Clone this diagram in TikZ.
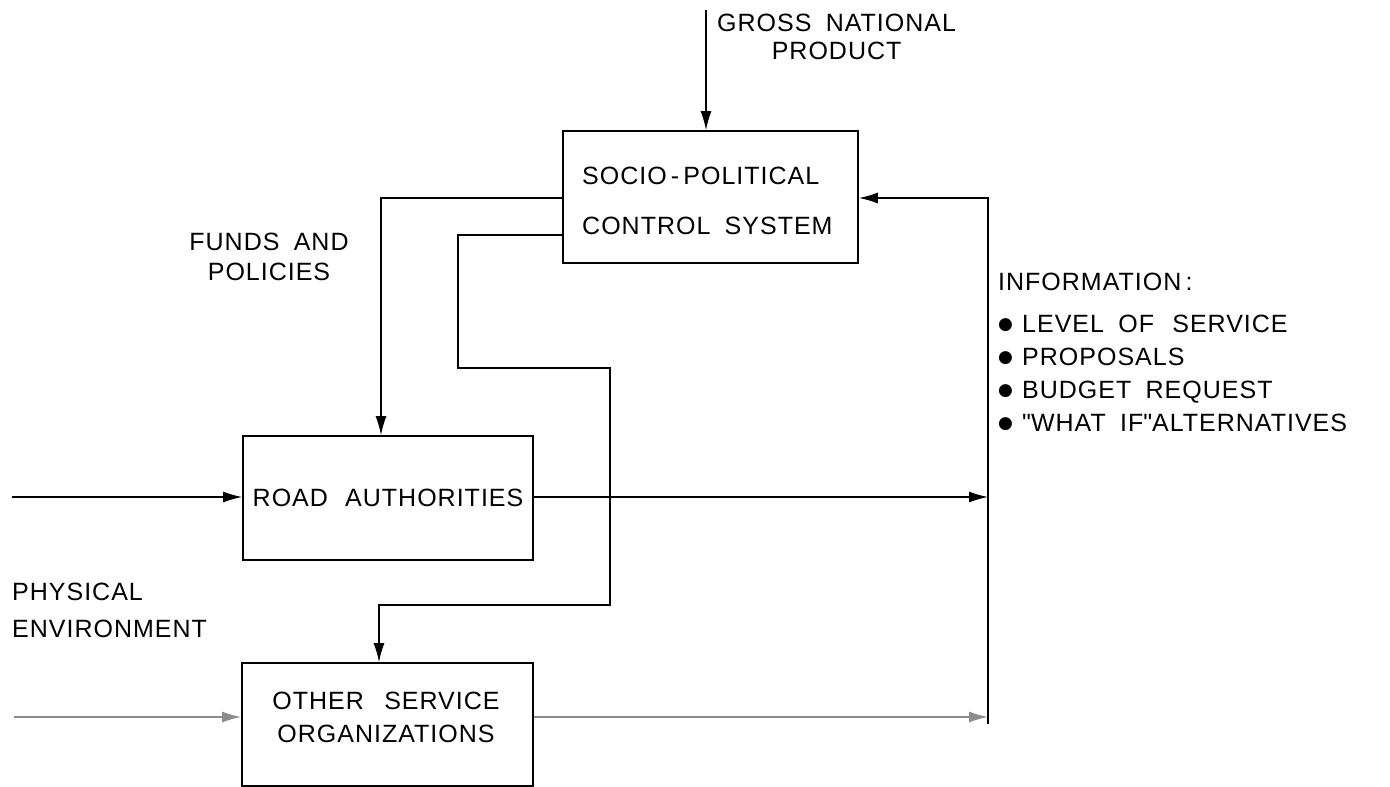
\documentclass[tikz,border=0pt]{standalone}
\usepackage{fontspec}
\setmainfont{Liberation Sans}[LetterSpace=4, WordSpace=1.8]
\newfontfamily\dejavu{DejaVu Sans}
\newfontfamily\qfont{Liberation Sans}
\usetikzlibrary{arrows.meta}
\newcommand{\blt}{\makebox[24pt][l]{\raisebox{3pt}{\dejavu\fontsize{17}{17}\selectfont ●}}}
\newcommand{\sq}{{\qfont"}}
\begin{document}
\begin{tikzpicture}[x=1pt,y=-1pt,
  box/.style={draw, line width=1.8pt, inner sep=0pt},
  conn/.style={line width=1.3pt},
  faint/.style={conn, draw=black!45},
  arr/.style={-{Latex[length=19pt,width=11pt]}},
  lbl/.style={inner sep=0pt, font=\fontsize{25}{28}\selectfont},
]
\useasboundingbox (0,0) rectangle (1390,787);

% boxes
\node[box, minimum width=295pt, minimum height=132pt] (spc) at (710.5,197) {};
\node[lbl, anchor=west, align=left, font=\fontsize{25}{50}\selectfont] (spctext) at (582,201) {SOCIO\,-\,POLITICAL\\CONTROL SYSTEM};
\node[box, minimum width=290pt, minimum height=124pt, font=\fontsize{25}{28}\selectfont] (ra) at (388,498) {ROAD\hspace{3pt} AUTHORITIES};
\node[box, minimum width=291pt, minimum height=123pt] (oso) at (387.5,724.5) {};
\node[lbl, align=center, font=\fontsize{25}{33}\selectfont] (osotext) at (386,717.5) {OTHER\hspace{6pt} SERVICE\\ORGANIZATIONS};

% labels
\node[lbl, align=center, anchor=west] (gnp) at (717,36.5) {GROSS NATIONAL\\PRODUCT};
\node[lbl, align=center, font=\fontsize{25}{30}\selectfont] (funds) at (269,257) {FUNDS AND\\POLICIES};
\node[lbl, align=left, anchor=west, font=\fontsize{25}{37}\selectfont] (phys) at (12,610.5) {PHYSICAL\\ENVIRONMENT};
\node[lbl, anchor=west] (info) at (998,282) {INFORMATION\,:};
\node[lbl, anchor=west, align=left, font=\fontsize{25}{33}\selectfont] (list) at (998,373.5)
  {\blt LEVEL OF\hspace{4pt} SERVICE\\\blt PROPOSALS\\\blt BUDGET REQUEST\\\blt \sq WHAT IF\sq ALTERNATIVES};

% coordinates
\coordinate (gnptop) at (706,10);
\coordinate (f1) at (381,198);
\coordinate (p1) at (458,235);
\coordinate (p2) at (458,368);
\coordinate (p3) at (610,368);
\coordinate (p4) at (610,605);
\coordinate (p5) at (379,605);
\coordinate (rain) at (12,497);
\coordinate (raout) at (988,497);
\coordinate (osoin) at (14,717);
\coordinate (osoout) at (988,717);
\coordinate (vb) at (988,724);
\coordinate (vt) at (988,198);

% connectors
\draw[conn, arr] (gnptop) -- (gnptop |- spc.north);
\draw[conn, arr] (spc.west |- f1) -- (f1) -- (f1 |- ra.north);
\draw[conn, arr] (spc.west |- p1) -- (p1) -- (p2) -- (p3) -- (p4) -- (p5) -- (p5 |- oso.north);
\draw[conn, arr] (rain) -- (rain -| ra.west);
\draw[conn, arr] (ra.east |- raout) -- (raout);
\draw[faint, arr] (osoin) -- (osoin -| oso.west);
\draw[faint, arr] (oso.east |- osoout) -- (osoout);
\draw[conn, arr] (vb) -- (vt) -- (vt -| spc.east);
\end{tikzpicture}
\end{document}
